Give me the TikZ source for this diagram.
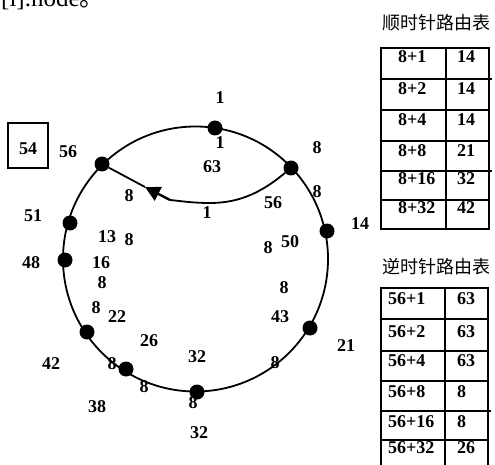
\documentclass[tikz,border=0pt]{standalone}
\usepackage{fontspec}
\setmainfont{Liberation Serif}
\newfontfamily\cjk{Noto Sans CJK SC}
\usetikzlibrary{arrows.meta}
\begin{document}
\begin{tikzpicture}[x=1pt,y=-1pt,
  lbl/.style={font=\fontsize{18}{18}\selectfont\bfseries, inner sep=0pt},
  dot/.style={circle, fill=black, minimum size=15pt, inner sep=0pt},
  ring/.style={line width=1.8pt},
  tbl/.style={line width=1.7pt},
  cell/.style={font=\fontsize{18}{18}\selectfont\bfseries, inner sep=0pt, anchor=base west},
  ttl/.style={font=\cjk\fontsize{18}{18}\selectfont, inner sep=0pt}]
\useasboundingbox (0,0) rectangle (495,465);
\clip (0,0) rectangle (495,465);
\fill[white] (0,0) rectangle (495,465);

% cut-off heading text
\node[anchor=base west, inner sep=0pt, font=\fontsize{25}{25}\selectfont] (head) at (1,7) {[i].node{\cjk 。}};

% ring
\coordinate (c) at (195.5,259);
\draw[ring] (c) circle[radius=132.5pt];

% nodes on ring
\node[dot] (d1) at (215,128) {};
\node[dot] (d2) at (291,168) {};
\node[dot] (d3) at (327,231) {};
\node[dot] (d4) at (310,328) {};
\node[dot] (d5) at (197,392) {};
\node[dot] (d6) at (126,369) {};
\node[dot] (d7) at (87,332) {};
\node[dot] (d8) at (65,260) {};
\node[dot] (d9) at (70,223) {};
\node[dot] (d10) at (102,164) {};

% chord with arrow
\coordinate (tip) at (145,187);
\coordinate (tail) at (170,200);
\draw[ring] (d2) .. controls (262,192) and (240,203) .. (210,203)
   .. controls (192,203) and (181,201) .. (tail);
\draw[line width=2.4pt, -{Triangle[length=15pt,width=15pt]}] (tail) -- (tip);
\draw[ring] (tip) -- (d10);

% boxed 54
\node[draw, line width=1.5pt, minimum width=40pt, minimum height=45pt, inner sep=0pt] (b54) at (28,145.5) {};
\node[lbl] (t54) at (28,149) {54};

% labels
\node[lbl] (a1) at (220,98) {1};
\node[lbl] (a2) at (220,143) {1};
\node[lbl] (a3) at (212,167) {63};
\node[lbl] (a4) at (68,152) {56};
\node[lbl] (a5) at (129,196) {8};
\node[lbl] (a6) at (207,213) {1};
\node[lbl] (a7) at (33,216) {51};
\node[lbl] (a8) at (107,237) {13};
\node[lbl] (a9) at (129,240) {8};
\node[lbl] (a10) at (317,148) {8};
\node[lbl] (a11) at (317,192) {8};
\node[lbl] (a12) at (273,203) {56};
\node[lbl] (a13) at (360,224) {14};
\node[lbl] (a14) at (268,248) {8};
\node[lbl] (a15) at (290,242) {50};
\node[lbl] (a16) at (284,288) {8};
\node[lbl] (a17) at (280,317) {43};
\node[lbl] (a18) at (346,346) {21};
\node[lbl] (a19) at (275,363) {8};
\node[lbl] (a20) at (197,357) {32};
\node[lbl] (a21) at (193,403) {8};
\node[lbl] (a22) at (199,433) {32};
\node[lbl] (a23) at (31,263) {48};
\node[lbl] (a24) at (101,263) {16};
\node[lbl] (a25) at (102,283) {8};
\node[lbl] (a26) at (96,308) {8};
\node[lbl] (a27) at (117,317) {22};
\node[lbl] (a28) at (149,341) {26};
\node[lbl] (a29) at (51,364) {42};
\node[lbl] (a30) at (112,364) {8};
\node[lbl] (a31) at (144,387) {8};
\node[lbl] (a32) at (97,407) {38};

% clockwise table
\node[ttl] (ttl1) at (436,23) {顺时针路由表};
\draw[tbl] (381,48) rectangle (489,229);
\draw[tbl] (446,48) -- (446,229);
\draw[tbl] (380,79) -- (492,79);
\draw[tbl] (381,110) -- (489,110);
\draw[tbl] (381,141) -- (489,141);
\draw[tbl] (381,171) -- (492,171);
\draw[tbl] (381,200) -- (489,200);
\foreach \k/\v/\y in {1/14/63, 2/14/95, 4/14/126, 8/21/157, 16/32/185, 32/42/213}{
  \node[cell] at (398,\y) {8+\k};
  \node[cell] at (457,\y) {\v};
}

% counter-clockwise table
\node[ttl] (ttl2) at (436,267) {逆时针路由表};
\draw[tbl] (381,470) -- (381,288) -- (488,288) -- (488,470);
\draw[tbl] (445,288) -- (445,470);
\draw[tbl] (380,319) -- (488,319);
\draw[tbl] (381,351) -- (488,351);
\draw[tbl] (381,381) -- (488,381);
\draw[tbl] (381,411) -- (491,411);
\draw[tbl] (381,440) -- (488,440);
\foreach \k/\v/\y in {1/63/304, 2/63/337, 4/63/366, 8/8/397, 16/8/427, 32/26/453}{
  \node[cell] at (388,\y) {56+\k};
  \node[cell] at (457,\y) {\v};
}
\end{tikzpicture}
\end{document}
